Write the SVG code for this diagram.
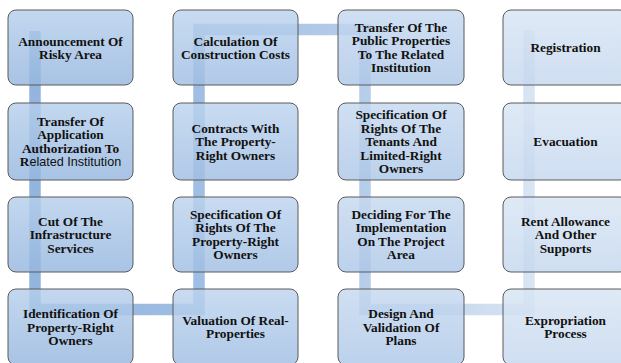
<svg xmlns="http://www.w3.org/2000/svg" width="621" height="363" viewBox="0 0 621 363">
<style>
.box{stroke:#5b5b5b;stroke-width:1;fill-opacity:0.82}
.t{font-family:"Liberation Serif","Times New Roman",serif;font-weight:bold;font-size:13.3px;fill:#111;text-anchor:middle}
.s{font-family:"Liberation Sans",Arial,sans-serif;font-weight:normal;font-size:12.6px}
.bar{fill:none;stroke:url(#barg);stroke-width:11.5;stroke-linejoin:miter}
</style>
<defs>
<linearGradient id="barg" gradientUnits="userSpaceOnUse" x1="29" y1="0" x2="535" y2="0">
<stop offset="0" stop-color="#93b4dd"/>
<stop offset="0.33" stop-color="#a0bee3"/>
<stop offset="0.66" stop-color="#b6cde9"/>
<stop offset="1" stop-color="#d9e5f3"/>
</linearGradient>
<linearGradient id="g1" x1="0" y1="0" x2="0" y2="1">
<stop offset="0" stop-color="#b6cfec"/><stop offset="1" stop-color="#95b6de"/>
</linearGradient>
<linearGradient id="g2" x1="0" y1="0" x2="0" y2="1">
<stop offset="0" stop-color="#bcd3ee"/><stop offset="1" stop-color="#a0bee3"/>
</linearGradient>
<linearGradient id="g3" x1="0" y1="0" x2="0" y2="1">
<stop offset="0" stop-color="#c6d9f0"/><stop offset="1" stop-color="#adc7e7"/>
</linearGradient>
<linearGradient id="g4" x1="0" y1="0" x2="0" y2="1">
<stop offset="0" stop-color="#d8e5f4"/><stop offset="1" stop-color="#c4d7ee"/>
</linearGradient>
</defs>
<rect width="621" height="363" fill="#ffffff"/>
<g id="connectors">
<path class="bar" d="M35,31 V309.5 H199 V29.5 H365 V309.5 H529 V30"/>
</g>
<g id="n1"><rect class="box" x="8" y="10" width="125" height="75" rx="8" fill="url(#g1)"/>
<text class="t" x="70.5" y="45.5">Announcement Of</text><text class="t" x="70.5" y="59">Risky Area</text></g>
<g id="n2"><rect class="box" x="8" y="103" width="125" height="77" rx="8" fill="url(#g1)"/>
<text class="t" x="70.5" y="125.8">Transfer Of</text><text class="t" x="70.5" y="139.3">Application</text><text class="t" x="70.5" y="152.8">Authorization To</text><text class="t" x="70.5" y="166.3">R<tspan class="s">elated Institution</tspan></text></g>
<g id="n3"><rect class="box" x="8" y="197" width="125" height="75" rx="8" fill="url(#g1)"/>
<text class="t" x="70.5" y="225.5">Cut Of The</text><text class="t" x="70.5" y="239">Infrastructure</text><text class="t" x="70.5" y="252.5">Services</text></g>
<g id="n4"><rect class="box" x="8" y="289" width="125" height="76" rx="8" fill="url(#g1)"/>
<text class="t" x="70.5" y="318">Identification Of</text><text class="t" x="70.5" y="331.5">Property-Right</text><text class="t" x="70.5" y="345">Owners</text></g>
<g id="n5"><rect class="box" x="173" y="289" width="125" height="76" rx="8" fill="url(#g2)"/>
<text class="t" x="235.5" y="324.8">Valuation Of Real-</text><text class="t" x="235.5" y="338.3">Properties</text></g>
<g id="n6"><rect class="box" x="173" y="197" width="125" height="75" rx="8" fill="url(#g2)"/>
<text class="t" x="235.5" y="218.8">Specification Of</text><text class="t" x="235.5" y="232.3">Rights Of The</text><text class="t" x="235.5" y="245.8">Property-Right</text><text class="t" x="235.5" y="259.3">Owners</text></g>
<g id="n7"><rect class="box" x="173" y="103" width="125" height="77" rx="8" fill="url(#g2)"/>
<text class="t" x="235.5" y="132.5">Contracts With</text><text class="t" x="235.5" y="146">The Property-</text><text class="t" x="235.5" y="159.5">Right Owners</text></g>
<g id="n8"><rect class="box" x="173" y="10" width="125" height="75" rx="8" fill="url(#g2)"/>
<text class="t" x="235.5" y="45.5">Calculation Of</text><text class="t" x="235.5" y="59">Construction Costs</text></g>
<g id="n9"><rect class="box" x="338" y="10" width="126" height="75" rx="8" fill="url(#g3)"/>
<text class="t" x="401" y="31.8">Transfer Of The</text><text class="t" x="401" y="45.3">Public Properties</text><text class="t" x="401" y="58.8">To The Related</text><text class="t" x="401" y="72.3">Institution</text></g>
<g id="n10"><rect class="box" x="338" y="103" width="126" height="77" rx="8" fill="url(#g3)"/>
<text class="t" x="401" y="119">Specification Of</text><text class="t" x="401" y="132.5">Rights Of The</text><text class="t" x="401" y="146">Tenants And</text><text class="t" x="401" y="159.5">Limited-Right</text><text class="t" x="401" y="173">Owners</text></g>
<g id="n11"><rect class="box" x="338" y="197" width="126" height="75" rx="8" fill="url(#g3)"/>
<text class="t" x="401" y="218.8">Deciding For The</text><text class="t" x="401" y="232.3">Implementation</text><text class="t" x="401" y="245.8">On The Project</text><text class="t" x="401" y="259.3">Area</text></g>
<g id="n12"><rect class="box" x="338" y="289" width="126" height="76" rx="8" fill="url(#g3)"/>
<text class="t" x="401" y="318">Design And</text><text class="t" x="401" y="331.5">Validation Of</text><text class="t" x="401" y="345">Plans</text></g>
<g id="n13"><rect class="box" x="503" y="289" width="125" height="76" rx="8" fill="url(#g4)"/>
<text class="t" x="565.5" y="324.8">Expropriation</text><text class="t" x="565.5" y="338.3">Process</text></g>
<g id="n14"><rect class="box" x="503" y="197" width="125" height="75" rx="8" fill="url(#g4)"/>
<text class="t" x="565.5" y="225.5">Rent Allowance</text><text class="t" x="565.5" y="239">And Other</text><text class="t" x="565.5" y="252.5">Supports</text></g>
<g id="n15"><rect class="box" x="503" y="103" width="125" height="77" rx="8" fill="url(#g4)"/>
<text class="t" x="565.5" y="146">Evacuation</text></g>
<g id="n16"><rect class="box" x="503" y="10" width="125" height="75" rx="8" fill="url(#g4)"/>
<text class="t" x="565.5" y="52.3">Registration</text></g>
</svg>
